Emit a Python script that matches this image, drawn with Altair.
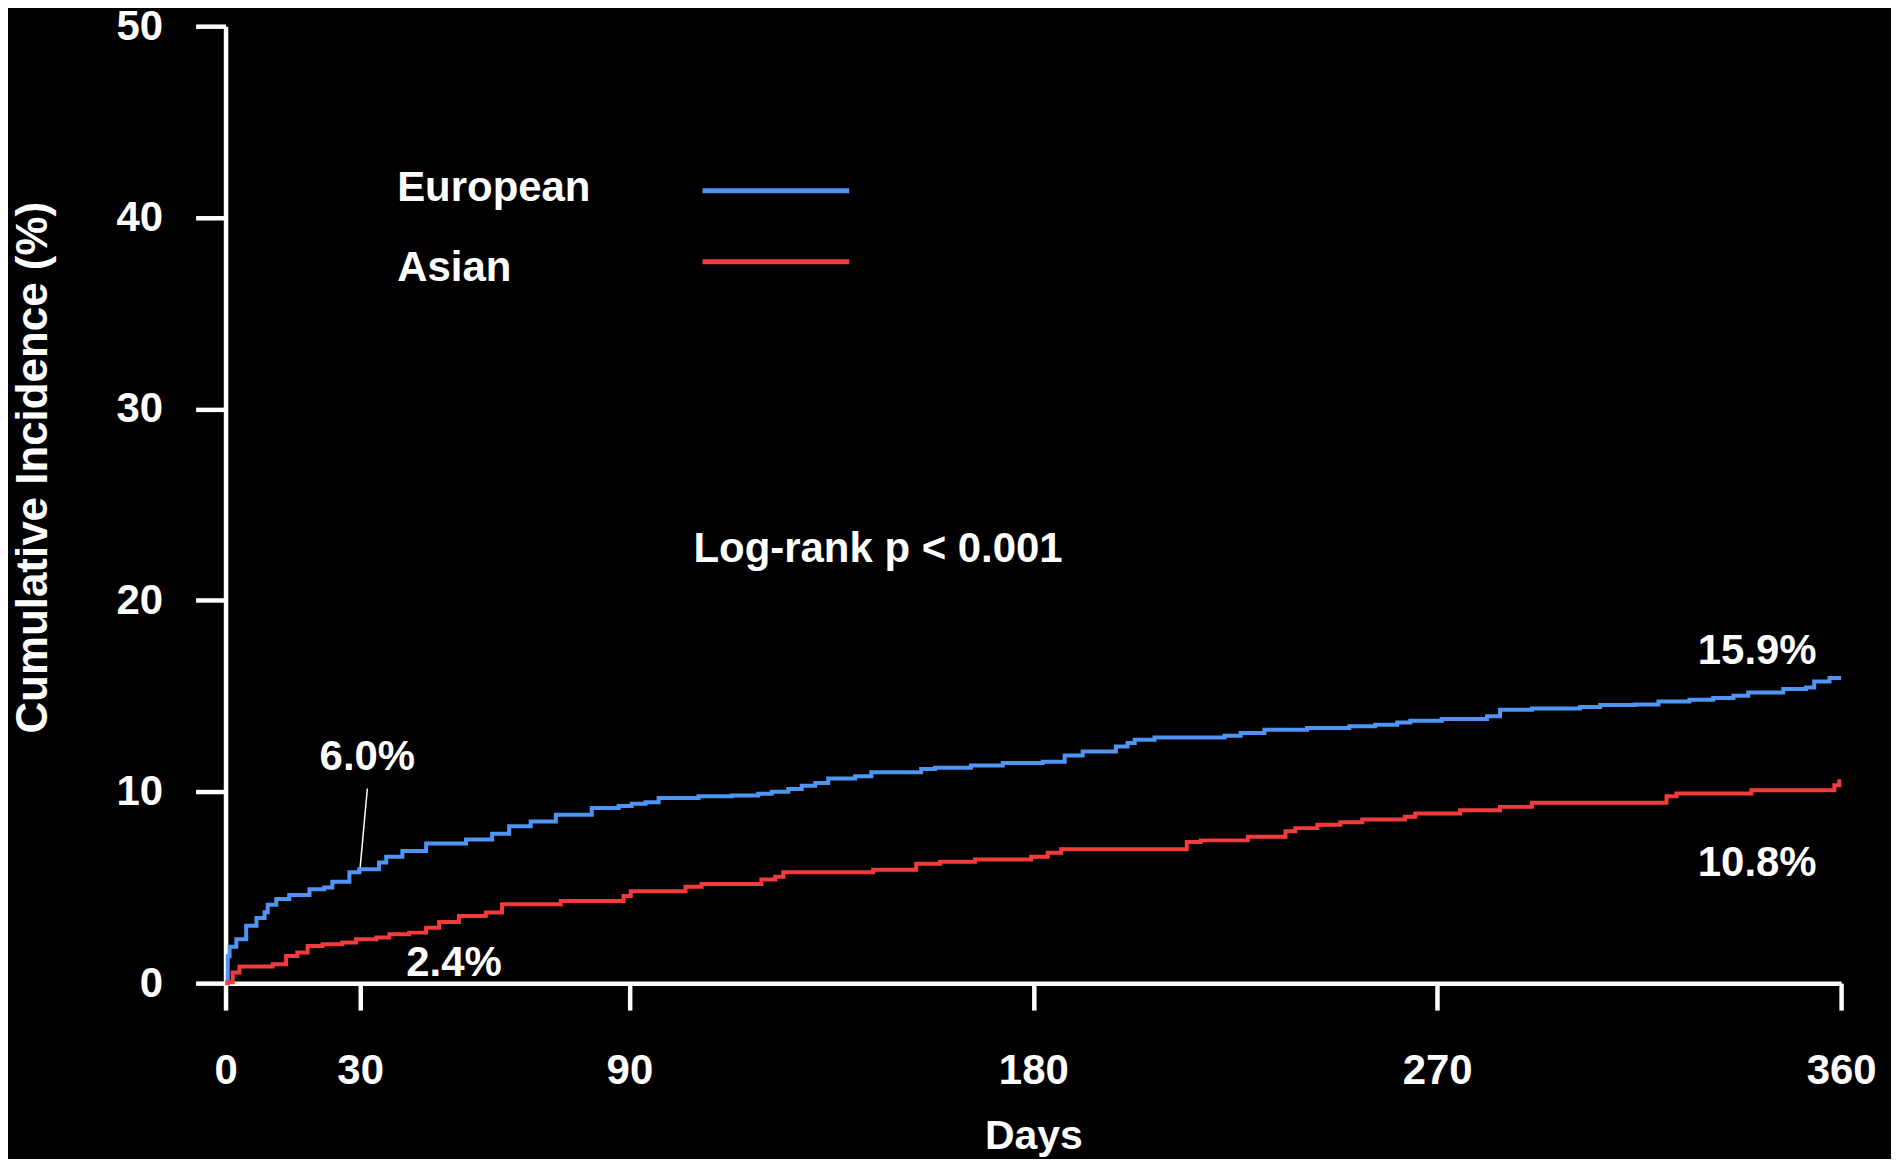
import altair as alt
import pandas as pd

# ---------------- data ----------------
eu_days = [0, 0.5, 0.9, 2.4, 4.6, 6.9, 8.7, 9.4, 11.3, 14.2, 18.7, 22, 23.8, 27.6, 29.8,
           34.2, 35.8, 39.4, 44.7, 53.6, 59.4, 63.2, 68, 73.6, 81.6, 87.6, 90.5, 93.6,
           96.5, 105.4, 112.8, 118.7, 121.7, 125.4, 128.4, 131.4, 134.3, 140.3, 143.9,
           155, 158.1, 166.1, 173.2, 182.1, 187, 191, 198.4, 201, 202.6, 207, 222.6,
           226.2, 231.5, 241, 250.4, 256.2, 261.1, 264, 271, 281.1, 284, 291.1, 301.8,
           306.3, 314, 319.3, 326.2, 331.5, 336, 339.3, 347.1, 352.2, 354, 357.4, 360]
eu_pct = [0, 1.4, 1.9, 2.3, 3.0, 3.4, 3.7, 4.1, 4.4, 4.6, 4.9, 5.0, 5.3, 5.8, 5.95,
          6.3, 6.6, 6.9, 7.3, 7.5, 7.8, 8.2, 8.45, 8.8, 9.15, 9.25, 9.37, 9.45,
          9.68, 9.77, 9.8, 9.89, 10.0, 10.15, 10.32, 10.46, 10.69, 10.81, 11.02,
          11.19, 11.26, 11.37, 11.5, 11.57, 11.89, 12.1, 12.37, 12.55, 12.72, 12.84, 12.93,
          13.07, 13.24, 13.33, 13.42, 13.5, 13.62, 13.71, 13.8, 13.94, 14.29, 14.35, 14.43,
          14.53, 14.56, 14.72, 14.81, 14.9, 15.02, 15.19, 15.37, 15.45, 15.76, 15.94, 15.94]

as_days = [0, 0.4, 1.6, 3.1, 10.5, 13.5, 16, 18.3, 21.6, 26, 29.1, 33.6, 36.5, 40.9,
           44.7, 47.6, 52, 58, 61.6, 74.7, 88.7, 90.3, 102.5, 106.1, 119.4, 122.5, 124.3,
           144.3, 153.9, 159.2, 167, 179.5, 183.2, 186.2, 214.2, 217.3, 227.8, 236.2,
           238.4, 243.3, 248.4, 253.3, 262.8, 265.1, 275.1, 284, 291.1, 321.1, 323.3,
           340, 358.5, 359.6, 360]
as_pct = [0, 0.05, 0.56, 0.87, 0.99, 1.42, 1.6, 1.94, 2.03, 2.12, 2.29, 2.38, 2.55, 2.64,
          2.9, 3.2, 3.51, 3.69, 4.12, 4.29, 4.55, 4.8, 5.04, 5.18, 5.42, 5.56, 5.8,
          5.93, 6.24, 6.34, 6.46, 6.6, 6.81, 6.99, 7.37, 7.46, 7.65, 7.94,
          8.1, 8.27, 8.41, 8.55, 8.69, 8.86, 9.04, 9.21, 9.42, 9.77, 9.91,
          10.08, 10.34, 10.55, 10.55]

groups = ["European", "Asian"]
colors = ["#4F95F5", "#F43B3B"]

x_ticks = [0, 30, 90, 180, 270, 360]
y_ticks = [0, 10, 20, 30, 40, 50]

ann_text = ["6.0%", "2.4%", "15.9%", "10.8%", "Log-rank p < 0.001"]
ann_day = [31.6, 50.9, 341.3, 341.3, 145.4]
ann_pct = [11.16, 0.36, 16.65, 5.6, 21.98]

# ---------------- chart ----------------
FONT = "Liberation Sans"

df = pd.concat([
    pd.DataFrame({"day": eu_days, "pct": eu_pct, "group": "European"}),
    pd.DataFrame({"day": as_days, "pct": as_pct, "group": "Asian"}),
], ignore_index=True)
ann = pd.DataFrame({"label": ann_text, "day": ann_day, "pct": ann_pct})

xs = alt.Scale(domain=[0, 360], nice=False, zero=False)
ys = alt.Scale(domain=[0, 50], nice=False)

lines = alt.Chart(df).mark_line(interpolate="step-after", strokeWidth=4).encode(
    x=alt.X("day:Q", scale=xs, axis=alt.Axis(
        values=x_ticks, title="Days", tickSize=27, labelPadding=41,
        labelFlush=False, labelOverlap=False, titleFontSize=41,
        titleBaseline="alphabetic", titleY=166)),
    y=alt.Y("pct:Q", scale=ys, axis=alt.Axis(
        values=y_ticks, title="Cumulative Incidence (%)", tickSize=30, labelPadding=33,
        labelFlush=False, labelOverlap=False, titleFontSize=44,
        titleAngle=270, titleBaseline="middle", titleAlign="center",
        titleX=-192, titleY=442)),
    color=alt.Color("group:N", scale=alt.Scale(domain=groups, range=colors), legend=None),
)

texts = alt.Chart(ann).mark_text(
    font=FONT, fontSize=42, fontWeight="bold", color="white",
    align="center", baseline="alphabetic"
).encode(x=alt.X("day:Q", scale=xs), y=alt.Y("pct:Q", scale=ys), text="label:N")

one = pd.DataFrame({"a": [0]})
leader = alt.Chart(one).mark_rule(color="white", strokeWidth=1.5).encode(
    x=alt.datum(30.0), y=alt.datum(6.05), x2=alt.datum(31.6), y2=alt.datum(10.17))

leg_eu_t = alt.Chart(one).mark_text(text="European", font=FONT, fontSize=42, fontWeight="bold",
                                    color="white", align="left", baseline="alphabetic").encode(
    x=alt.value(172), y=alt.value(175))
leg_as_t = alt.Chart(one).mark_text(text="Asian", font=FONT, fontSize=42, fontWeight="bold",
                                    color="white", align="left", baseline="alphabetic").encode(
    x=alt.value(172), y=alt.value(255))
leg_eu_l = alt.Chart(one).mark_rule(color=colors[0], strokeWidth=5).encode(
    x=alt.value(478), x2=alt.value(625), y=alt.value(165))
leg_as_l = alt.Chart(one).mark_rule(color=colors[1], strokeWidth=5).encode(
    x=alt.value(478), x2=alt.value(625), y=alt.value(236))

chart = alt.layer(lines, leader, texts, leg_eu_t, leg_as_t, leg_eu_l, leg_as_l).properties(
    width=1619, height=959,
    autosize=alt.AutoSizeParams(type="none"),
    padding={"left": 218, "top": 17, "right": 50, "bottom": 175},
    background="black",
).configure_view(stroke=None).configure_axis(
    grid=False, domainColor="white", domainWidth=4.5, tickColor="white", tickWidth=4.5,
    labelColor="white", titleColor="white", labelFont=FONT, titleFont=FONT,
    labelFontSize=42, labelFontWeight="bold", titleFontWeight="bold",
)

chart.save("out.html", embed_options={"renderer": "svg", "actions": False})
